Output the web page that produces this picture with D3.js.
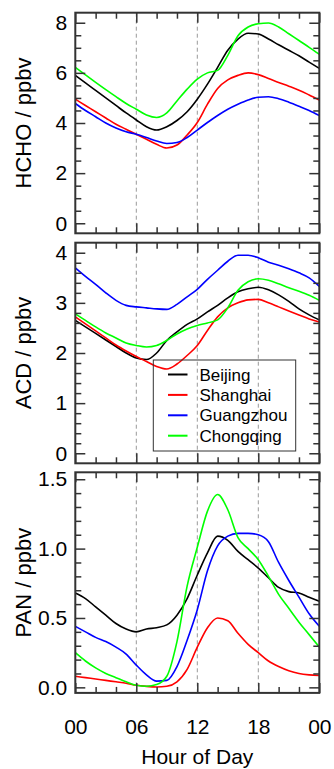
<!DOCTYPE html>
<html>
<head>
<meta charset="utf-8">
<script src="https://cdn.jsdelivr.net/npm/d3@7"></script>
<style>
  body { margin: 0; background: #fff; }
  svg { display: block; font-family: "Liberation Sans", Arial, Helvetica, sans-serif; }
</style>
</head>
<body>
<div id="chart"></div>
<script>
// Hours of the day
const hours = [0, 1, 2, 3, 4, 5, 6, 7, 8, 9, 10, 11, 12, 13, 14, 15, 16, 17, 18, 19, 20, 21, 22, 23, 24];
const cities = ['Beijing', 'Shanghai', 'Guangzhou', 'Chongqing'];

// HCHO (ppbv)
const hchoBeijing = [5.9, 5.6, 5.3, 5.0, 4.7, 4.4, 4.12, 3.85, 3.72, 3.85, 4.1, 4.45, 4.95, 5.55, 6.22, 6.9, 7.35, 7.58, 7.55, 7.35, 7.12, 6.9, 6.68, 6.43, 6.18];
const hchoShanghai = [4.95, 4.7, 4.45, 4.2, 3.95, 3.75, 3.55, 3.35, 3.15, 3.0, 3.12, 3.52, 4.02, 4.75, 5.38, 5.72, 5.9, 6.0, 5.93, 5.78, 5.62, 5.47, 5.31, 5.12, 4.92];
const hchoGuangzhou = [4.78, 4.5, 4.25, 4.0, 3.8, 3.65, 3.55, 3.42, 3.28, 3.18, 3.22, 3.42, 3.72, 4.02, 4.3, 4.55, 4.75, 4.92, 5.03, 5.05, 4.97, 4.83, 4.67, 4.5, 4.3];
const hchoChongqing = [6.22, 5.92, 5.62, 5.33, 5.05, 4.78, 4.55, 4.32, 4.22, 4.4, 4.88, 5.35, 5.75, 6.0, 6.1, 6.7, 7.48, 7.83, 7.96, 7.99, 7.83, 7.56, 7.29, 7.02, 6.74];

// Acetaldehyde (ppbv)
const acdBeijing = [2.65, 2.52, 2.39, 2.26, 2.13, 2.0, 1.9, 1.87, 2.0, 2.25, 2.42, 2.57, 2.68, 2.82, 2.95, 3.1, 3.22, 3.28, 3.31, 3.26, 3.16, 3.03, 2.88, 2.76, 2.66];
const acdShanghai = [2.72, 2.58, 2.44, 2.3, 2.16, 2.04, 1.93, 1.83, 1.73, 1.68, 1.78, 1.95, 2.15, 2.45, 2.72, 2.9, 3.0, 3.06, 3.07, 3.0, 2.92, 2.84, 2.76, 2.68, 2.62];
const acdGuangzhou = [3.7, 3.53, 3.37, 3.2, 3.05, 2.95, 2.92, 2.9, 2.88, 2.87, 2.97, 3.12, 3.27, 3.47, 3.65, 3.83, 3.95, 3.95, 3.9, 3.81, 3.75, 3.68, 3.6, 3.5, 3.33];
const acdChongqing = [2.78, 2.65, 2.52, 2.4, 2.3, 2.2, 2.15, 2.12, 2.15, 2.25, 2.38, 2.48, 2.55, 2.6, 2.66, 2.9, 3.25, 3.42, 3.48, 3.45, 3.38, 3.3, 3.23, 3.15, 3.05];

// PAN (ppbv)
const panBeijing = [0.68, 0.64, 0.58, 0.52, 0.46, 0.42, 0.40, 0.42, 0.43, 0.45, 0.52, 0.64, 0.81, 0.97, 1.09, 1.06, 0.98, 0.92, 0.86, 0.79, 0.72, 0.69, 0.68, 0.65, 0.62];
const panShanghai = [0.08, 0.07, 0.06, 0.05, 0.04, 0.03, 0.015, 0.007, 0.003, 0.008, 0.04, 0.13, 0.29, 0.43, 0.5, 0.48, 0.39, 0.31, 0.25, 0.19, 0.15, 0.12, 0.1, 0.09, 0.085];
const panGuangzhou = [0.44, 0.40, 0.36, 0.33, 0.29, 0.24, 0.16, 0.09, 0.045, 0.05, 0.15, 0.34, 0.56, 0.84, 1.02, 1.09, 1.11, 1.11, 1.10, 1.05, 0.9, 0.77, 0.65, 0.53, 0.44];
const panChongqing = [0.25, 0.19, 0.14, 0.1, 0.07, 0.04, 0.015, 0.008, 0.02, 0.08, 0.33, 0.73, 1.01, 1.27, 1.39, 1.28, 1.08, 1.0, 0.92, 0.8, 0.67, 0.57, 0.47, 0.38, 0.29];

// Tick labels
const hourTicks = [0, 6, 12, 18, 24];
const hourLabels = ['00', '06', '12', '18', '00'];
const hchoTicks = [0, 2, 4, 6, 8];
const acdTicks = [0, 1, 2, 3, 4];
const panTicks = [0, 0.5, 1.0, 1.5];
const panLabels = ['0.0', '0.5', '1.0', '1.5'];

// Line colours, in city order
const colors = ['#000000', '#ff0000', '#0000ff', '#00ff00'];

// Size and layout
const width = 334;
const height = 769;
const left = 75.3;
const right = 319.3;
const panelHeight = 220.6;
const axisColor = '#333';

const svg = d3.select('#chart')
  .append('svg')
  .attr('width', width)
  .attr('height', height);

const x = d3.scaleLinear().domain([0, 24]).range([left, right]);

function styleAxis(g) {
  g.select('.domain').remove();
  g.attr('font-size', 21).attr('font-family', null).attr('color', axisColor);
  g.selectAll('.tick line').attr('stroke-width', 1.5);
  g.selectAll('.tick text').attr('fill', '#000');
}

function drawPanel(top, yDomain, yTicks, yLabels, yMinor, title, series, showX) {
  const bottom = top + panelHeight;
  const y = d3.scaleLinear().domain(yDomain).range([bottom, top]);
  const g = svg.append('g');

  // Dashed guide lines at 06, 12, 18
  g.selectAll('line.guide')
    .data([6, 12, 18])
    .enter()
    .append('line')
    .attr('x1', d => x(d))
    .attr('x2', d => x(d))
    .attr('y1', top)
    .attr('y2', bottom)
    .attr('stroke', '#999')
    .attr('stroke-width', 1)
    .attr('stroke-dasharray', '4,3');

  // Curves
  const line = d3.line()
    .x((d, i) => x(hours[i]))
    .y(d => y(d))
    .curve(d3.curveMonotoneX);

  g.selectAll('path.series')
    .data(series)
    .enter()
    .append('path')
    .attr('d', d => line(d))
    .attr('fill', 'none')
    .attr('stroke', (d, i) => colors[i])
    .attr('stroke-width', 1.6);

  const hourMinor = d3.range(0, 25, 2).filter(h => h % 6 !== 0);

  // Bottom axis (major + minor)
  g.append('g')
    .attr('transform', `translate(0,${bottom})`)
    .call(d3.axisBottom(x).tickValues(hourTicks).tickSize(-10).tickPadding(26)
      .tickFormat(d => showX ? hourLabels[hourTicks.indexOf(d)] : ''))
    .call(styleAxis);
  g.append('g')
    .attr('transform', `translate(0,${bottom})`)
    .call(d3.axisBottom(x).tickValues(hourMinor).tickSize(-6).tickFormat(''))
    .call(styleAxis);

  // Top axis
  g.append('g')
    .attr('transform', `translate(0,${top})`)
    .call(d3.axisTop(x).tickValues(hourTicks).tickSize(-10).tickFormat(''))
    .call(styleAxis);
  g.append('g')
    .attr('transform', `translate(0,${top})`)
    .call(d3.axisTop(x).tickValues(hourMinor).tickSize(-6).tickFormat(''))
    .call(styleAxis);

  // Left axis
  g.append('g')
    .attr('transform', `translate(${left},0)`)
    .call(d3.axisLeft(y).tickValues(yTicks).tickSize(-10).tickPadding(8)
      .tickFormat(d => yLabels[yTicks.indexOf(d)]))
    .call(styleAxis);
  g.append('g')
    .attr('transform', `translate(${left},0)`)
    .call(d3.axisLeft(y).tickValues(yMinor).tickSize(-6).tickFormat(''))
    .call(styleAxis);

  // Right axis
  g.append('g')
    .attr('transform', `translate(${right},0)`)
    .call(d3.axisRight(y).tickValues(yTicks).tickSize(-10).tickFormat(''))
    .call(styleAxis);
  g.append('g')
    .attr('transform', `translate(${right},0)`)
    .call(d3.axisRight(y).tickValues(yMinor).tickSize(-6).tickFormat(''))
    .call(styleAxis);

  // Frame
  g.append('rect')
    .attr('x', left)
    .attr('y', top)
    .attr('width', right - left)
    .attr('height', panelHeight)
    .attr('fill', 'none')
    .attr('stroke', axisColor)
    .attr('stroke-width', 2);

  // Y title
  g.append('text')
    .attr('transform', `translate(31,${top + panelHeight / 2}) rotate(-90)`)
    .attr('text-anchor', 'middle')
    .attr('font-size', 22)
    .text(title);

  return y;
}

drawPanel(12.7, [-0.4, 8.4], hchoTicks, hchoTicks.map(String),
  d3.range(0, 8.01, 0.5).filter(v => v % 2 !== 0),
  'HCHO / ppbv', [hchoBeijing, hchoShanghai, hchoGuangzhou, hchoChongqing], false);

drawPanel(242.7, [-0.2, 4.2], acdTicks, acdTicks.map(String),
  d3.range(0, 41, 2).map(v => v / 10).filter(v => v % 1 !== 0),
  'ACD / ppbv', [acdBeijing, acdShanghai, acdGuangzhou, acdChongqing], false);

drawPanel(472.3, [-0.04, 1.55], panTicks, panLabels,
  d3.range(0, 16, 1).map(v => v / 10).filter((v, i) => i % 5 !== 0),
  'PAN / ppbv', [panBeijing, panShanghai, panGuangzhou, panChongqing], true);

// X title
svg.append('text')
  .attr('x', (left + right) / 2)
  .attr('y', 764)
  .attr('text-anchor', 'middle')
  .attr('font-size', 21)
  .text('Hour of Day');

// Legend
const legend = svg.append('g');
legend.append('rect')
  .attr('x', 153.3)
  .attr('y', 360)
  .attr('width', 142.4)
  .attr('height', 91)
  .attr('fill', 'none')
  .attr('stroke', axisColor)
  .attr('stroke-width', 1);

const rows = legend.selectAll('g.row')
  .data(cities)
  .enter()
  .append('g')
  .attr('transform', (d, i) => `translate(0,${374.5 + i * 20.4})`);

rows.append('line')
  .attr('x1', 168)
  .attr('x2', 187.5)
  .attr('stroke', (d, i) => colors[i])
  .attr('stroke-width', 2);

rows.append('text')
  .attr('x', 199.5)
  .attr('dy', '0.36em')
  .attr('font-size', 17)
  .text(d => d);
</script>
</body>
</html>
